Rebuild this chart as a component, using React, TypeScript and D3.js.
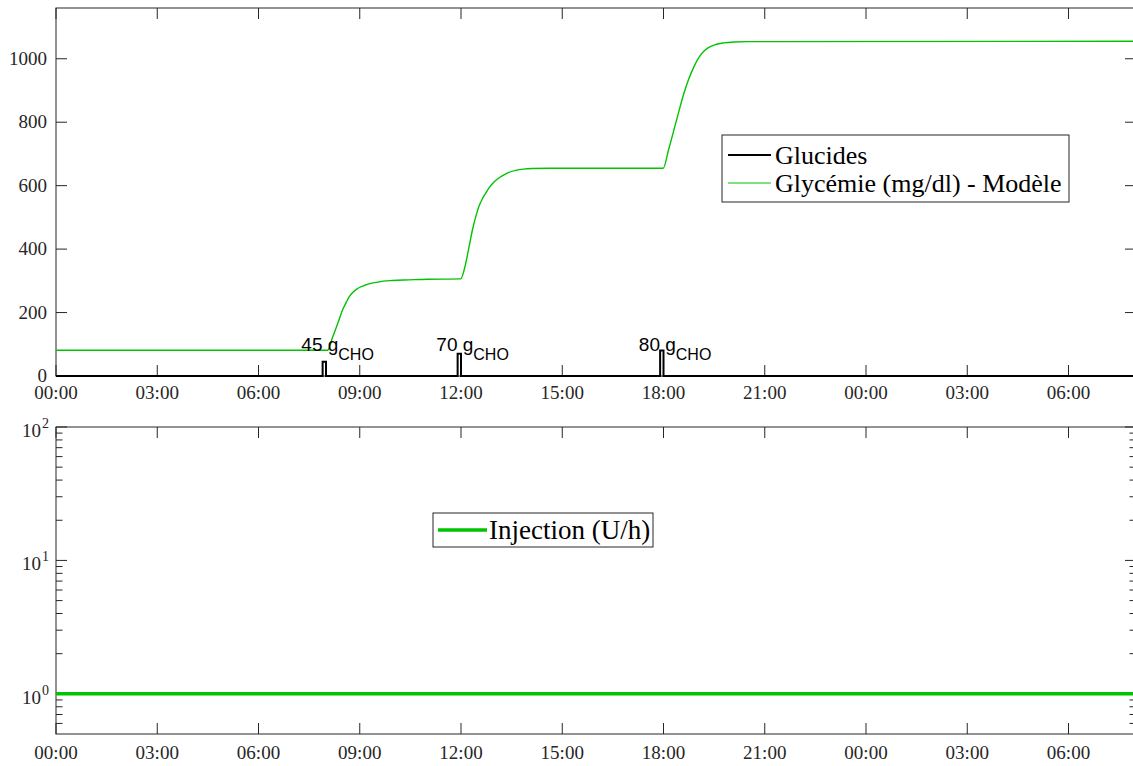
import React from "react";
import * as d3 from "d3";

// ---------- data ----------
const glucoseHours = [
  0, 8.05, 8.2, 8.35, 8.49, 8.6, 8.69, 8.8, 8.9, 8.99, 9.15, 9.3, 9.48, 9.7, 9.97, 10.46, 11.0,
  11.99, 12.14, 12.24, 12.34, 12.44, 12.53, 12.63, 12.73, 12.83, 12.93, 13.07, 13.22, 13.4, 13.62, 13.85, 14.11, 14.6,
  17.99, 18.15, 18.39, 18.59, 18.74, 18.89, 19.04, 19.18, 19.33, 19.55, 19.78, 20.1, 20.5, 32,
];
const glucoseValues = [
  81, 81, 124, 166, 208, 232, 250, 264, 273, 279, 286, 291, 295, 299, 301, 303, 305,
  306, 355, 408, 461, 503, 534, 558, 576, 593, 606, 620, 631, 641, 648, 652, 654, 655,
  655, 713, 808, 886, 934, 972, 1003, 1022, 1035, 1045, 1050, 1053, 1054, 1055,
];

const mealHours = [8, 12, 18];
const mealCarbs = [45, 70, 80];
const mealDuration = 0.1;

const injectionHours = [0, 32];
const injectionValues = [1, 1];

const xTickHours = [0, 3, 6, 9, 12, 15, 18, 21, 24, 27, 30];
const xTickLabels = ["00:00", "03:00", "06:00", "09:00", "12:00", "15:00", "18:00", "21:00", "00:00", "03:00", "06:00"];
const yTopTicks = [0, 200, 400, 600, 800, 1000];
const yLogMajor = [1, 10, 100];
const yLogExp = ["0", "1", "2"];

const legendTop = ["Glucides", "Glycémie (mg/dl) - Modèle"];
const legendBottom = ["Injection (U/h)"];

// ---------- layout ----------
const W = 1133, H = 766;
const left = 56, right = 1136;
const topY0 = 8, topY1 = 376;
const botY0 = 427, botY1 = 734;
const AX = "#262626";
const GREEN = "#00c400";
const SERIF = "'Liberation Serif', 'Times New Roman', serif";
const SANS = "'Liberation Sans', Arial, sans-serif";

export default function App() {
  const x = d3.scaleLinear().domain([0, 32]).range([left, right]);
  const yTop = d3.scaleLinear().domain([0, 1160]).range([topY1, topY0]);
  const yBot = d3.scaleLog().domain([0.5, 100]).range([botY1, botY0]);

  const glucoseLine = d3
    .line<number>()
    .x((_, i) => x(glucoseHours[i]))
    .y((v) => yTop(v))
    .curve(d3.curveMonotoneX)(glucoseValues) as string;

  const carbPts: [number, number][] = [[0, 0]];
  mealHours.forEach((h, i) => {
    carbPts.push([h - mealDuration, 0], [h - mealDuration, mealCarbs[i]], [h, mealCarbs[i]], [h, 0]);
  });
  carbPts.push([32, 0]);
  const carbLine = d3
    .line<[number, number]>()
    .x((d) => x(d[0]))
    .y((d) => yTop(d[1]))(carbPts) as string;

  const injLine = d3
    .line<number>()
    .x((_, i) => x(injectionHours[i]))
    .y((v) => yBot(v))(injectionValues) as string;

  const minorLog: number[] = [];
  [0.1, 1, 10].forEach((dec) => {
    for (let k = 2; k <= 9; k++) {
      const v = dec * k;
      if (v > 0.5 && v < 100) minorLog.push(v);
    }
  });

  const tickLen = 11;
  const minorLen = 6.5;

  const xTicks = (y0: number, y1: number, labelY: number) => (
    <g>
      {xTickHours.map((h, i) => (
        <g key={i}>
          <line x1={x(h)} x2={x(h)} y1={y1} y2={y1 - tickLen} stroke={AX} strokeWidth={1} />
          <line x1={x(h)} x2={x(h)} y1={y0} y2={y0 + tickLen} stroke={AX} strokeWidth={1} />
          <text x={x(h)} y={labelY} textAnchor="middle" fontFamily={SERIF} fontSize={19} fill={AX}>
            {xTickLabels[i]}
          </text>
        </g>
      ))}
    </g>
  );

  return (
    <svg width={W} height={H} style={{ position: "absolute", left: 0, top: 0, background: "#fff" }}>
      <rect x={0} y={0} width={W} height={H} fill="#fff" />

      {/* ---------- top axes ---------- */}
      <g>
        <rect x={left} y={topY0} width={right - left} height={topY1 - topY0} fill="none" stroke={AX} strokeWidth={1} />
        {xTicks(topY0, topY1, topY1 + 23)}
        {yTopTicks.map((v) => (
          <g key={v}>
            <line x1={left} x2={left + tickLen} y1={yTop(v)} y2={yTop(v)} stroke={AX} />
            <line x1={right} x2={right - tickLen} y1={yTop(v)} y2={yTop(v)} stroke={AX} />
            <text x={left - 9} y={yTop(v) + 6} textAnchor="end" fontFamily={SERIF} fontSize={19} fill={AX}>
              {v}
            </text>
          </g>
        ))}
        <path d={carbLine} fill="none" stroke="#000" strokeWidth={2} />
        <path d={glucoseLine} fill="none" stroke={GREEN} strokeWidth={1.4} />
        {mealHours.map((h, i) => {
          const bx = x(h - mealDuration / 2);
          return (
            <text key={i} x={bx - 23} y={topY1 - 25} fontFamily={SANS} fontSize={19} fill="#000">
              {mealCarbs[i]} g
              <tspan fontSize={16} dy={9}>CHO</tspan>
            </text>
          );
        })}
        {/* legend */}
        <g>
          <rect x={722} y={135} width={347} height={67} fill="#fff" stroke={AX} strokeWidth={1} />
          <line x1={728} x2={771} y1={155} y2={155} stroke="#000" strokeWidth={2} />
          <line x1={728} x2={771} y1={183} y2={183} stroke={GREEN} strokeWidth={1.2} />
          <text x={775} y={164} fontFamily={SERIF} fontSize={26} fill="#000">{legendTop[0]}</text>
          <text x={775} y={192} fontFamily={SERIF} fontSize={26} fill="#000">{legendTop[1]}</text>
        </g>
      </g>

      {/* ---------- bottom axes ---------- */}
      <g>
        <rect x={left} y={botY0} width={right - left} height={botY1 - botY0} fill="none" stroke={AX} strokeWidth={1} />
        {xTicks(botY0, botY1, botY1 + 25)}
        {yLogMajor.map((v, i) => (
          <g key={v}>
            <line x1={left} x2={left + tickLen} y1={yBot(v)} y2={yBot(v)} stroke={AX} />
            <line x1={right} x2={right - tickLen} y1={yBot(v)} y2={yBot(v)} stroke={AX} />
            <text x={41} y={yBot(v) + 10} textAnchor="end" fontFamily={SERIF} fontSize={19} fill={AX}>10</text>
            <text x={42} y={yBot(v) + 1} fontFamily={SERIF} fontSize={14} fill={AX}>{yLogExp[i]}</text>
          </g>
        ))}
        {minorLog.map((v, i) => (
          <g key={i}>
            <line x1={left} x2={left + minorLen} y1={yBot(v)} y2={yBot(v)} stroke={AX} />
            <line x1={right} x2={right - minorLen} y1={yBot(v)} y2={yBot(v)} stroke={AX} />
          </g>
        ))}
        <path d={injLine} fill="none" stroke={GREEN} strokeWidth={3.5} />
        <g>
          <rect x={433} y={513} width={220} height={34} fill="#fff" stroke={AX} strokeWidth={1} />
          <line x1={438} x2={487} y1={530} y2={530} stroke={GREEN} strokeWidth={3.5} />
          <text x={489} y={539} fontFamily={SERIF} fontSize={27} fill="#000">{legendBottom[0]}</text>
        </g>
      </g>
    </svg>
  );
}
